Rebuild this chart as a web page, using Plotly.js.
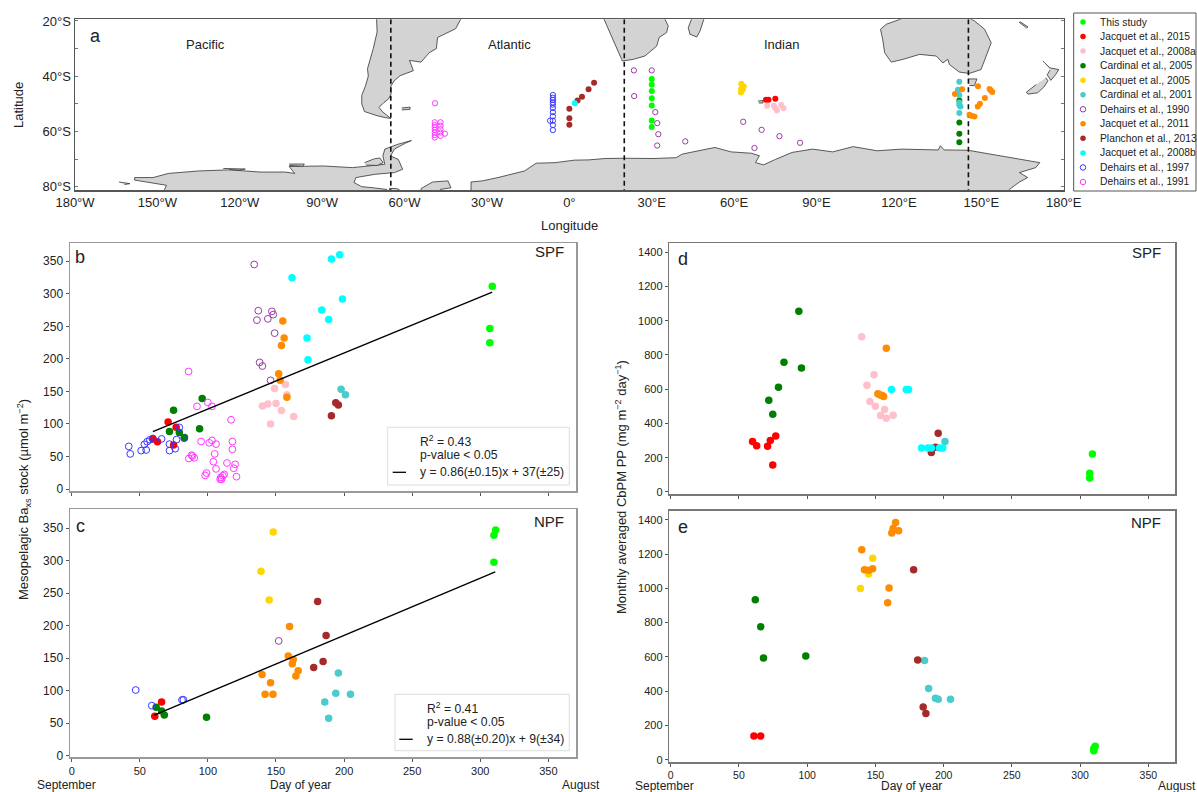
<!DOCTYPE html>
<html><head><meta charset="utf-8">
<script src="https://cdn.plot.ly/plotly-3.0.1.min.js"></script>
<style>html,body{margin:0;padding:0;background:#fff}#c{width:1197px;height:792px}</style>
</head><body><div id="c"></div>
<script>
// ---------- land outlines [lon, lat] ----------
const southAmerica=[[-70.2,-18.9],[-70,-24],[-71.4,-30],[-73.5,-37.3],[-73.2,-40],[-74.2,-43.4],[-75.6,-47],[-75.6,-50],[-74.6,-52.8],[-72,-53.8],[-70,-54.3],[-67,-55],[-65,-55.3],[-68,-52.9],[-69.3,-51.3],[-67.5,-49.5],[-65.8,-48.2],[-64.9,-46.4],[-65,-43.6],[-63.7,-41.6],[-61.6,-39.8],[-56.8,-38],[-58.2,-34.3],[-54,-34.9],[-51,-31.5],[-48.4,-30],[-48,-26],[-41.4,-22.8],[-39.3,-18.9]];
const antarcticaWest=[[-147.4,-82],[-147.4,-81],[-146.7,-79.5],[-153.7,-78.5],[-158.3,-77.6],[-158.3,-76.7],[-151.6,-76.7],[-146,-75.2],[-134.9,-74.3],[-123.7,-73.9],[-112.6,-74.7],[-103.5,-74.7],[-100,-75.2],[-102,-72.7],[-89.5,-72.5],[-79,-73.1],[-67.2,-71.9],[-67.9,-68.9],[-67.2,-66.4],[-62.3,-64.6],[-57.5,-63.3],[-59.6,-64.2],[-63.7,-66.4],[-65.1,-68.9],[-62.3,-70.1],[-60.7,-73.7],[-63.7,-74.9],[-70.7,-75.5],[-77.7,-76.7],[-78.4,-78.5],[-75.6,-80],[-71.4,-80.4],[-66.5,-81],[-66.5,-82]];
const antarcticaEast=[[-35.8,-82],[-35.8,-81],[-35.8,-78.3],[-31.7,-77.9],[-26,-76.7],[-16.3,-74.3],[-12.1,-71.5],[-5.2,-71.3],[1.8,-70.4],[7.1,-70.3],[13,-69.8],[20,-69.7],[30.8,-69.8],[38.9,-69.5],[41.1,-68.2],[53,-65.8],[58.9,-67.4],[66.3,-67.9],[69.2,-68.8],[67.8,-71.3],[70.7,-72.1],[75.1,-70.1],[81.1,-67.6],[88.5,-66.4],[95.9,-67.4],[103.3,-65.5],[112.1,-67],[121,-66.4],[134.3,-66.7],[135.1,-65.2],[136.5,-66.7],[145.1,-66.8],[153.6,-68.2],[171.3,-71.3],[169.8,-73.1],[163.9,-74.9],[166.9,-76.7],[163.9,-78.3],[160.2,-81],[160.2,-82]];
const alexanderIsland=[[-74.6,-71.3],[-71,-69.9],[-69,-69.6],[-67.8,-71.3],[-70,-72.3],[-74,-72.2]];
const berknerIsland=[[-54,-82],[-54,-80.7],[-49.8,-78.3],[-44.2,-77.9],[-43.1,-80.4],[-47,-81],[-47,-82]];
const iceRise=[[-65.6,-82],[-65.5,-80.6],[-63,-80.7],[-62,-81],[-62,-82]];
const rooseveltIsland=[[-164,-78.3],[-160,-78.9],[-162,-79.2]];
const thurstonIsland=[[-102,-71.8],[-96.5,-71.8],[-97,-72.6],[-102,-72.3]];
const siplePoint=[[-126,-73.4],[-118,-73.6],[-120,-74],[-124,-73.8]];
const africa=[[12.6,-19.3],[14.2,-23],[16.6,-28.5],[18.4,-32.1],[19.3,-34.5],[23.3,-33.9],[27.5,-32.7],[31.8,-29.1],[32.7,-26],[35.4,-24.2],[36,-21.8],[34.8,-19.3]];
const madagascar=[[44.5,-19.3],[43.3,-22.4],[43.9,-24.8],[46.4,-25.8],[47.6,-23.6],[49,-19.3]];
const australia=[[121.5,-19],[115.4,-21.2],[113.3,-23],[114.1,-26.7],[114.8,-31.5],[117.2,-34.9],[121.5,-33.9],[127.5,-32.1],[133.6,-32.7],[136,-35.2],[137.8,-33.9],[138.4,-35.8],[142,-38.5],[145.6,-39],[149.9,-37.6],[151.8,-32.7],[153.6,-27.9],[151.2,-23],[147.5,-20],[145.7,-19]];
const tasmania=[[145.1,-41],[148.4,-41],[147.5,-43.4],[145.7,-43.4]];
const nzNorth=[[172.4,-34.5],[175,-37],[178.2,-37.6],[177,-39.5],[175.3,-41.5],[174,-39.5],[175,-37.8]];
const nzSouth=[[173.5,-40.6],[174.3,-41.7],[172.7,-44],[170.5,-46],[167,-46.5],[166.4,-45.8],[170,-43]];
const newCaledonia=[[164,-20.2],[167,-22.2],[166.5,-22.5],[163.8,-20.5]];
const kerguelen=[[68.7,-49],[70.5,-48.8],[70.5,-49.7],[69,-49.7]];
const falklands=[[-61,-51.5],[-58,-51.2],[-58,-52],[-61,-52.2]];
const landmasses=[southAmerica,antarcticaWest,antarcticaEast,alexanderIsland,berknerIsland,iceRise,rooseveltIsland,thurstonIsland,siplePoint,africa,madagascar,australia,tasmania,nzNorth,nzSouth,newCaledonia,kerguelen,falklands];
const frontLongitudes=[-65,20,145.3];

// ---------- study names and their marker styles ----------
const studyNames=["This study","Jacquet et al., 2015","Jacquet et al., 2008a","Cardinal et al., 2005","Jacquet et al., 2005","Cardinal et al., 2001","Dehairs et al., 1990","Jacquet et al., 2011","Planchon et al., 2013","Jacquet et al., 2008b","Dehairs et al., 1997","Dehairs et al., 1991"];
const studyColors=["#00ff00","#ff0000","#ffc0cb","#008000","#ffd700","#48cccc","#9c3aa8","#ff8c00","#a52a2a","#00ffff","#3838ff","#ff38ff"];
const studyOpen=[false,false,false,false,false,false,true,false,false,false,true,true];

// ---------- panel a: station positions [lon, lat], in study order ----------
const mapPoints=[
 [[30,-41],[30,-43],[30,-45.4],[30,-48],[30,-50.6],[30,-56],[30,-58.4]],
 [[71.6,-48.5],[72.5,-48.5],[75,-48.2]],
 [[72,-50.7],[74.5,-50.7],[75,-51.6],[75.6,-52.4],[77.1,-50.4],[78,-51.6]],
 [[142,-48.8],[142,-56.8],[142,-60.8],[142,-63.9]],
 [[62.6,-42.7],[63.5,-43.6],[62.5,-44.6],[63.2,-44.8],[62.5,-45.9]],
 [[142,-42],[141.5,-44.9],[142,-46.8],[142,-49.5],[142.4,-51],[142,-50.4],[142,-53.3]],
 [[23.5,-37.9],[30,-37.9],[23.6,-47.2],[31.3,-53],[32,-57],[32.4,-61],[32,-65.1],[42.2,-63.6],[63.3,-56.5],[70,-59.4],[76.5,-61.7],[67.4,-66],[84,-64.1]],
 [[140.4,-46.4],[143,-44.7],[148.8,-43.6],[153,-44.6],[153.5,-45.2],[154,-45.7],[151.3,-47.9],[149.5,-50],[148.7,-51],[145.7,-54],[146.6,-54.4],[147.5,-54.6]],
 [[0,-51.8],[0,-55.2],[0,-57.6],[3,-48.8],[4.6,-47.4],[7,-44.7],[9,-42.4]],
 [[2,-49.8]],
 [[-6,-46.8],[-6,-47.8],[-6,-48.6],[-6,-49.5],[-6,-50.3],[-6,-51.5],[-6,-53],[-6,-54.5],[-6,-56.1],[-6,-57.7],[-6,-59.5],[-7,-56.1]],
 [[-48.9,-49.8],[-49,-56.7],[-49,-57.7],[-49,-58.5],[-49,-59.4],[-49,-60.4],[-49,-61.3],[-49,-62.2],[-46.9,-56.7],[-46.9,-57.9],[-46.9,-59.2],[-46.9,-60.4],[-46.9,-61.6],[-45.3,-60.8]]
];

// ---------- panel b: SPF Baxs stock [day, value], in study order ----------
const panelB=[
 [[308.8,311.7],[307,246.7],[307,224.7]],
 [[59.6,77],[63,72.7],[70.8,103],[76.7,95],[74.8,67.5]],
 [[149,154.6],[157,160.7],[158,145],[140,127.4],[144,130.5],[150,131.5],[154,120.8],[163,111.6],[146,100]],
 [[95.8,139],[74.8,121],[93.9,92.6],[71.8,88.5],[79,87],[82.8,79.3]],
 [],
 [[197.8,153.5],[201,145]],
 [[134,345],[137,274],[136,259.5],[144,261.5],[147,273],[148,268],[149,239.5],[138,194.5],[140,189],[146,167]],
 [[155,258],[156,232],[154,220.6],[152,177],[153,167],[158,141]],
 [[193.9,132.5],[195.8,129],[190.7,112.6]],
 [[161.8,324.5],[190.7,353.6],[196.8,360],[198.8,292],[183.6,275],[188.7,260.5],[172.8,232],[173.5,198.6]],
 [[41.9,65.5],[43,54],[51,59],[53.4,68.6],[54.7,60],[55.4,72.7],[57.4,75.7],[59.6,77.8],[66,77],[71.8,69],[71.8,59],[76,62],[77,76],[79,94.7],[82.6,78]],
 [[85.8,180.6],[92,127],[100,133],[103,127],[117,106.4],[118,73],[118,61],[95,73],[101,71],[103,74.7],[106,69],[105,54],[86,47],[88,52],[88.7,50.7],[90,48],[104,42],[106,31],[114,40],[120,38],[119,32],[121,19],[98,21],[99,24.6],[112,22.5],[111,20.5],[109.6,18],[109,15],[110,15]]
];
const fitB=[[59.6,88.3],[308.8,302.6]];

// ---------- panel c: NPF Baxs stock ----------
const panelC=[
 [[311.3,347],[310,339],[310,297.6]],
 [[66,82.6],[61,60.5]],
 [],
 [[62,74.4],[66,68.8],[68,62.6],[99,59]],
 [[148,344],[139,283.7],[145,239.6]],
 [[195.8,127],[193.9,96],[204.7,94.4],[185.8,82.6],[188.7,57.5]],
 [[152,176.5]],
 [[160,198.6],[159,153.4],[162.7,148],[162,141.6],[166.3,130.8],[164.6,122.6],[139.8,125],[146,112],[142,94.4],[147.8,94.4]],
 [[180.6,237],[186.8,184.7],[184.6,145],[177.7,135.5]],
 [],
 [[47,101],[58.8,77],[81,85.7],[82,86]],
 []
];
const fitC=[[60.6,62.3],[311,282.7]];

// ---------- panel d: SPF primary production ----------
const panelD=[
 [[309,222],[307,109],[307,82]],
 [[60,294],[63,270.6],[71,266.7],[73,300],[77,327],[74.8,157.7]],
 [[140,907],[149,685],[143.8,623],[146,527.6],[150,500],[156.7,481],[153.8,446],[158,430],[163,448]],
 [[93.9,1055],[95.8,724],[83,757],[79,611],[71.9,535],[74.8,453.6]],
 [],
 [[201,294]],
 [],
 [[158,839],[151.8,574],[153.5,566.6],[155,562.7],[156,557]],
 [[196,343],[191,230],[194,261]],
 [[161.8,598],[172.6,598],[174.3,598],[183.8,257],[188.5,257],[191,257],[197,257],[199.3,257]],
 [],
 []
];

// ---------- panel e: NPF primary production ----------
const panelE=[
 [[311,78],[310,66],[310,52]],
 [[61,138],[66,138]],
 [],
 [[62,933],[66,776],[68,593],[99,605]],
 [[148,1176],[145,1083],[139,999]],
 [[186,579],[189,416],[194,358],[196,352],[205,352]],
 [],
 [[140,1225],[142,1108],[145,1105],[148,1114],[160,1001],[159,916],[164.8,1384],[163,1349],[162,1322],[167,1336]],
 [[178,1108],[181,581],[185,307],[187,270]],
 [],
 [],
 []
];

const dayTicks=[0,50,100,150,200,250,300,350];
const stockTicks=[0,50,100,150,200,250,300,350];
const ppTicks=[0,200,400,600,800,1000,1200,1400];
const lonTicks=[-180,-150,-120,-90,-60,-30,0,30,60,90,120,150,180];
const lonLabels=["180°W","150°W","120°W","90°W","60°W","30°W","0°","30°E","60°E","90°E","120°E","150°E","180°E"];
const latTicks=[-20,-30,-40,-50,-60,-70,-80];
const latLabels=["20°S","","40°S","","60°S","","80°S"];

// ---------- page helpers ----------
const W=1197,H=792,FONT='"Liberation Sans", Arial, sans-serif',INK='#222';
const px=v=>v/W, py=v=>1-v/H;
const dom=(a,b)=>[px(a),px(b)];
const domY=(top,bot)=>[py(bot),py(top)];
const notes=[];
const note=(x,y,text,size,opts)=>notes.push(Object.assign({xref:'paper',yref:'paper',x:px(x),y:py(y),text,showarrow:false,xanchor:'center',yanchor:'middle',font:{family:FONT,size,color:INK}},opts||{}));
const traces=[];
const shapes=[];

// land and front lines on the map
landmasses.forEach(p=>traces.push({type:'scatter',mode:'lines',x:p.map(d=>d[0]),y:p.map(d=>d[1]),fill:'toself',fillcolor:'#d3d3d3',line:{color:'#333',width:0.8},hoverinfo:'skip',xaxis:'x',yaxis:'y'}));
frontLongitudes.forEach(l=>traces.push({type:'scatter',mode:'lines',x:[l,l],y:[-19.4,-81.2],line:{color:'#111',width:1.6,dash:'5px,3.5px'},hoverinfo:'skip',xaxis:'x',yaxis:'y'}));

function addStudies(rows,xa,ya,size){
  rows.forEach((pts,i)=>{
    if(!pts.length) return;
    traces.push({type:'scatter',mode:'markers',name:studyNames[i],x:pts.map(d=>d[0]),y:pts.map(d=>d[1]),xaxis:xa,yaxis:ya,
      marker:{size:studyOpen[i]?size-0.7:size,color:studyOpen[i]?'rgba(0,0,0,0)':studyColors[i],line:{color:studyColors[i],width:studyOpen[i]?1:0}}});
  });
}
addStudies(mapPoints,'x','y',6);
addStudies(panelB,'x2','y2',7.5);
addStudies(panelC,'x3','y3',7.5);
addStudies(panelD,'x4','y4',7.5);
addStudies(panelE,'x5','y5',7.5);
[[fitB,'x2','y2'],[fitC,'x3','y3']].forEach(([f,xa,ya])=>traces.push({type:'scatter',mode:'lines',x:f.map(d=>d[0]),y:f.map(d=>d[1]),line:{color:'#000',width:1.4},xaxis:xa,yaxis:ya,hoverinfo:'skip'}));

// legend panel: one marker per study on a small hidden axis, names as real text beside it
studyNames.forEach((n,i)=>{
  traces.push({type:'scatter',mode:'markers',x:[0],y:[i],xaxis:'x6',yaxis:'y6',cliponaxis:false,hoverinfo:'skip',
    marker:{size:5.5,color:studyOpen[i]?'rgba(0,0,0,0)':studyColors[i],line:{color:studyColors[i],width:studyOpen[i]?1:0}}});
  note(1098,22+i*160/11,n,10.3,{xanchor:'left'});
});
shapes.push({type:'rect',xref:'paper',yref:'paper',x0:px(1073.7),x1:px(1196),y0:py(191),y1:py(13),line:{color:'#555',width:1},fillcolor:'rgba(0,0,0,0)'});

// stats boxes
const statBox=(x0,x1,y0,y1)=>shapes.push({type:'rect',xref:'paper',yref:'paper',x0:px(x0),x1:px(x1),y0:py(y1),y1:py(y0),line:{color:'#ddd',width:1},fillcolor:'rgba(255,255,255,0.8)',layer:'below'});
const keyLine=(x0,x1,y)=>shapes.push({type:'line',xref:'paper',yref:'paper',x0:px(x0),x1:px(x1),y0:py(y),y1:py(y),line:{color:'#000',width:1.3}});
statBox(387.7,569.3,427.3,485);
keyLine(392.7,406,472.3);
note(418.3,441,'R<sup>2</sup> = 0.43',12.2,{xanchor:'left'});
note(418.3,455,'p-value < 0.05',12.2,{xanchor:'left'});
note(418.3,472.3,'y = 0.86(±0.15)x + 37(±25)',12.2,{xanchor:'left'});
statBox(395,569.3,694.3,750.7);
keyLine(399.3,412.7,739.3);
note(425,708,'R<sup>2</sup> = 0.41',12.2,{xanchor:'left'});
note(425,721.7,'p-value < 0.05',12.2,{xanchor:'left'});
note(425,739.3,'y = 0.88(±0.20)x + 9(±34)',12.2,{xanchor:'left'});

// labels
note(95,36,'a',18);note(80,257,'b',18);note(80,526,'c',18);note(683,259,'d',18);note(683,527,'e',18);
note(549,252,'SPF',15);note(549,521,'NPF',15);note(1146,253,'SPF',15);note(1146,522,'NPF',15);
note(205,45,'Pacific',13);note(509,45,'Atlantic',13);note(781,45,'Indian',13);
note(18,105,'Latitude',13,{textangle:-90});
note(569,225,'Longitude',13);
note(24,500,'Mesopelagic Ba<sub>xs</sub> stock (µmol m<sup>−2</sup>)',13,{textangle:-90});
note(621,487,'Monthly averaged CbPM PP (mg m<sup>−2</sup> day<sup>−1</sup>)',13,{textangle:-90});
note(66,785,'September',12);note(300,785,'Day of year',12);note(581,785,'August',12);
note(664,786,'September',12);note(911,786,'Day of year',12);note(1177,786,'August',12);

function panelAxes(dx,dy,rx,ry,yvals,showX,spine,ySize){
  return [{domain:dx,range:rx,tickmode:'array',tickvals:dayTicks,showticklabels:showX,ticks:'outside',ticklen:3,tickwidth:1,tickcolor:'#555',
      showgrid:false,zeroline:false,showline:true,mirror:true,linecolor:spine,linewidth:1.5,tickfont:{family:FONT,size:11,color:INK}},
    {domain:dy,range:ry,tickmode:'array',tickvals:yvals,ticks:'outside',ticklen:3,tickwidth:1,tickcolor:'#555',
      showgrid:false,zeroline:false,showline:true,mirror:true,linecolor:spine,linewidth:1.5,tickfont:{family:FONT,size:ySize,color:INK}}];
}
const [x2,y2]=panelAxes(dom(70,576),domY(243,491),[-1.25,370.3],[-3,378],stockTicks,false,'#999',12);
const [x3,y3]=panelAxes(dom(70,576),domY(509.3,757.3),[-1.25,370.3],[-2.5,379],stockTicks,true,'#999',12);
const [x4,y4]=panelAxes(dom(669.3,1175),domY(243.3,494.3),[-1,369.5],[-13.6,1452],ppTicks,false,'#777',11);
const [x5,y5]=panelAxes(dom(669.3,1175),domY(510.7,762),[-1,369.5],[-13.4,1452.7],ppTicks,true,'#777',11);
x3.anchor='y3';y3.anchor='x3';x2.anchor='y2';y2.anchor='x2';x4.anchor='y4';y4.anchor='x4';x5.anchor='y5';y5.anchor='x5';
x5.tickfont.size=10.5;

Plotly.newPlot('c',traces,{
  width:W,height:H,margin:{l:0,r:0,t:0,b:0},paper_bgcolor:'#fff',plot_bgcolor:'rgba(0,0,0,0)',showlegend:false,hovermode:false,
  xaxis:{domain:dom(75,1063.7),range:[-180,180],anchor:'y',tickmode:'array',tickvals:lonTicks,ticktext:lonLabels,ticks:'',showgrid:false,zeroline:false,showline:true,mirror:true,linecolor:'#555',linewidth:1.5,tickfont:{family:FONT,size:13,color:INK}},
  yaxis:{domain:domY(19.3,190),range:[-81.2,-19.4],anchor:'x',tickmode:'array',tickvals:latTicks,ticktext:latLabels,ticks:'inside',ticklen:3,tickcolor:'#777',showgrid:false,zeroline:false,showline:true,mirror:'ticks',linecolor:'#555',linewidth:1.5,tickfont:{family:FONT,size:13,color:INK}},
  xaxis2:x2,yaxis2:y2,xaxis3:x3,yaxis3:y3,xaxis4:x4,yaxis4:y4,xaxis5:x5,yaxis5:y5,
  xaxis6:{domain:dom(1083,1098),range:[0,1],anchor:'y6',visible:false,fixedrange:true},
  yaxis6:{domain:domY(22,182),range:[11,0],anchor:'x6',visible:false,fixedrange:true},
  annotations:notes,shapes:shapes
},{staticPlot:true,displayModeBar:false});
</script></body></html>
